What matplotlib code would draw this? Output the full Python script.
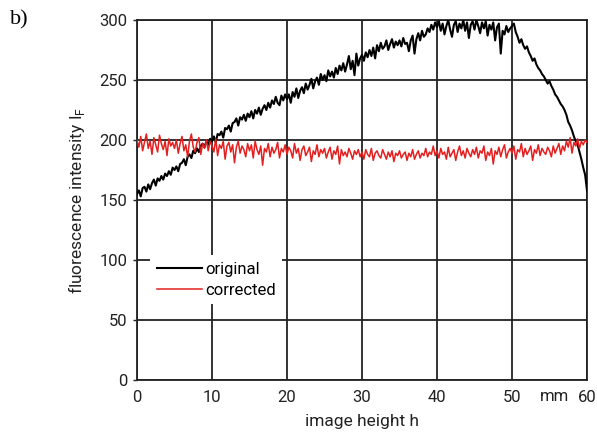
import numpy as np
import matplotlib
matplotlib.use("Agg")
import matplotlib.pyplot as plt

plt.rcParams['font.family'] = ['Roboto', 'DejaVu Sans']

# image height h in mm (step 0.25 mm)
h_mm = [i * 0.25 for i in range(241)]

original = [
    155,158,153,160,161,157,163,159,164,167,162,168,166,170,167,172,170,174,171,177,
    175,178,174,180,181,184,179,186,188,185,191,189,193,190,195,197,194,199,196,201,
    199,203,198,205,204,207,202,210,209,212,207,214,215,218,212,219,217,221,216,222,
    219,224,218,225,222,227,221,226,229,225,231,227,233,230,236,231,229,237,233,238,
    234,238,231,240,236,243,235,241,244,239,247,242,246,251,243,249,252,246,255,250,
    254,249,258,253,257,252,260,255,262,258,264,257,263,270,259,266,254,272,262,268,
    271,266,273,269,275,270,277,268,279,274,281,276,278,283,275,280,284,277,282,279,
    283,278,285,280,281,274,283,287,272,284,289,283,291,286,288,293,290,296,292,298,
    294,299,291,297,288,295,300,292,286,296,299,290,297,293,300,291,298,285,296,299,
    292,300,295,289,298,293,299,287,296,292,298,283,294,297,272,291,288,295,290,293,
    295,297,290,286,281,284,279,276,278,273,270,266,268,263,260,258,255,253,250,247,
    249,245,242,238,236,233,230,228,225,221,215,212,208,203,199,196,190,184,177,171,
    158,
]

corrected = [
    200,194,203,191,198,205,193,199,188,202,196,190,204,197,192,199,187,201,195,198,
    193,200,189,197,203,191,196,186,199,205,194,190,198,202,188,197,193,200,191,199,
    195,190,201,187,196,193,199,184,195,198,190,196,181,194,199,189,195,192,186,197,
    191,196,185,199,192,188,195,179,193,190,197,186,194,189,192,198,185,193,190,196,
    188,194,191,185,197,189,193,183,192,195,187,190,194,182,191,188,196,186,192,189,
    193,185,190,194,184,191,188,195,180,192,187,190,186,193,189,184,191,188,192,186,
    190,184,192,188,186,193,183,189,191,187,185,192,188,184,190,186,191,182,189,187,
    191,185,188,190,183,189,186,192,184,188,191,185,189,187,193,186,190,188,195,187,
    191,185,193,188,190,184,194,186,189,192,183,190,195,187,191,185,193,189,186,192,
    188,194,185,191,189,195,183,190,187,193,180,191,188,194,186,192,196,185,190,193,
    189,195,184,192,190,197,186,193,188,191,195,183,192,189,196,187,193,190,188,194,
    191,186,195,189,193,197,188,195,191,199,194,202,189,198,195,201,193,199,196,200,
    198,
]

x_ticks = [0, 10, 20, 30, 40, 50, 60]
y_ticks = [0, 50, 100, 150, 200, 250, 300]

fig = plt.figure(figsize=(5.97, 4.33), dpi=100)
ax = fig.add_axes([137/597, 1-380/433, 450/597, 360/433])

ax.plot(h_mm, original, color='black', lw=1.5, label='original', zorder=3)
ax.plot(h_mm, corrected, color='#e3201f', lw=1.1, label='corrected', zorder=4)

ax.set_xlim(0, 60)
ax.set_ylim(0, 300)
ax.set_xticks(x_ticks)
ax.set_yticks(y_ticks)
ax.grid(True, color='#222222', lw=1.3, zorder=1)
ax.set_axisbelow(True)
for s in ax.spines.values():
    s.set_linewidth(1.3)
    s.set_color('#222222')

ax.tick_params(axis='y', length=3, width=1.0, labelsize=12, pad=4, colors='#222222')
ax.tick_params(axis='x', length=0, labelsize=12, pad=7, colors='#222222')

ax.set_xlabel('image height h', fontsize=12.5, color='#222222', labelpad=7)
ax.set_ylabel('fluorescence intensity I$_\\mathregular{F}$', fontsize=12.5, color='#222222', labelpad=9)

ax.annotate('mm', xy=(55.7, 0), xycoords=('data', 'axes fraction'),
            xytext=(0, -15.0), textcoords='offset points', ha='center', va='baseline',
            fontsize=12, color='#222222')

fig.text(10/597, 1-10/433, 'b)', family=['Liberation Serif', 'DejaVu Serif'], fontsize=16,
         va='top', ha='left')

leg = ax.legend(loc='upper left', bbox_to_anchor=(0.01, 0.37), frameon=True,
                fontsize=12, handlelength=2.7, handletextpad=0.2, labelspacing=0.35,
                borderpad=0.4, fancybox=False)
leg.get_frame().set_facecolor('white')
leg.get_frame().set_edgecolor('none')
leg.get_frame().set_alpha(1.0)
leg.set_zorder(5)

fig.savefig('out.png', dpi=100)
